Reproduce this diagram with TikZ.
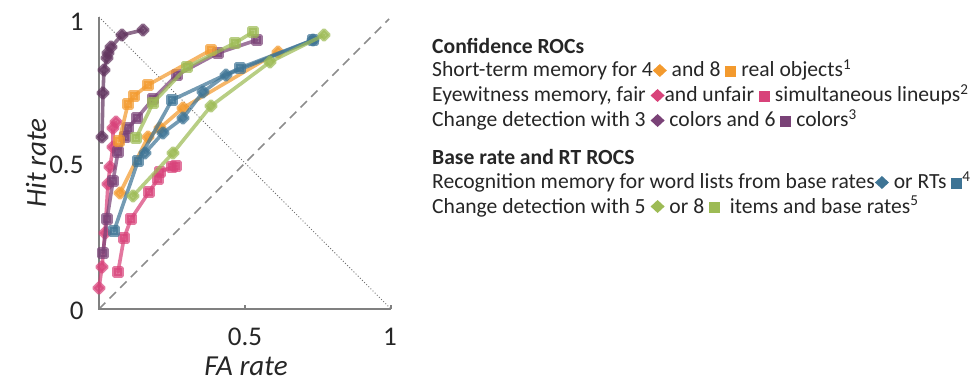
\documentclass[tikz,border=0pt]{standalone}
\usepackage{fontspec}
\setmainfont{Carlito}
\usetikzlibrary{plotmarks}
\definecolor{cOr}{HTML}{F39A2E}
\definecolor{cPk}{HTML}{D8437A}
\definecolor{cPu}{HTML}{7A4277}
\definecolor{cBl}{HTML}{3E7495}
\definecolor{cGr}{HTML}{9DBB55}
\definecolor{axg}{HTML}{808080}
\definecolor{txt}{HTML}{262626}
\newcommand\ldia[1]{\tikz[baseline=0pt]\fill[#1] (0pt,0pt) -- (7pt,6.5pt) -- (0pt,13pt) -- (-7pt,6.5pt) -- cycle;}
\newcommand\lsq[1]{\tikz[baseline=0pt]\fill[#1] (0pt,0pt) rectangle (11pt,11pt);}
\tikzset{
  roc/.style={line width=3.6pt, opacity=0.72, line join=round, line cap=round},
  dmk/.style={mark=square*, mark size=3.6pt, mark options={rotate=45, solid}},
  sqk/.style={mark=square*, mark size=4pt, mark options={solid}},
  ticklab/.style={font=\fontsize{27}{27}\selectfont, text=txt},
  axlab/.style={font=\fontsize{29}{29}\selectfont\itshape, text=txt},
  leg/.style={anchor=base west, font=\fontsize{21.6}{26}\selectfont, inner sep=0pt, text=txt},
  legh/.style={leg, font=\fontsize{21.6}{26}\selectfont\bfseries},
  axisline/.style={draw=axg, line width=1.4pt},
}
\begin{document}
\begin{tikzpicture}[x=1pt,y=-1pt]
\useasboundingbox (0,0) rectangle (979,390);
% reference lines
\draw[black!55, line width=1pt, dotted] (99,17) -- (391,309);
\draw[black!45, line width=1.5pt, dash pattern=on 9pt off 6pt] (99,309) -- (389,19);
% axes
\draw[axisline] (99,17) -- (99,309) -- (391,309);
\draw[axisline] (99,163) -- (103,163);
\draw[axisline] (245,309) -- (245,305);
\draw[axisline] (391,309) -- (391,305);
% curves
\draw[roc,cPk,dmk] plot coordinates {(99,288) (102,267) (105,233) (108,184) (110,167) (113,147) (113,128) (116,122)};
\draw[roc,cPk,sqk] plot coordinates {(118,272) (124,238) (131,219) (149,192) (158,179) (160,172) (172,167) (176,166)};
\draw[roc,cPu,sqk] plot coordinates {(103,253) (107,219) (113,181) (118,152) (125,137) (128,128) (137,118) (153,99) (177,75) (218,53) (257,40)};
\draw[roc,cPu!80!black,dmk] plot coordinates {(102,137) (103,93) (104,70) (107,58) (108,53) (111,47) (122,35) (143,30)};
\draw[roc,cOr,dmk] plot coordinates {(120,193) (148,137) (160,128) (183,108) (278,52)};
\draw[roc,cOr,sqk] plot coordinates {(119,141) (128,104) (134,96) (148,85) (211,50)};
\draw[roc,cBl,sqk] plot coordinates {(114,231) (138,161) (172,100) (240,68) (313,40)};
\draw[roc,cBl,dmk] plot coordinates {(145,153) (163,133) (183,118) (203,92) (226,75) (313,40)};
\draw[roc,cGr,dmk] plot coordinates {(133,196) (173,153) (211,106) (270,62) (324,35)};
\draw[roc,cGr,sqk] plot coordinates {(136,138) (153,103) (187,67) (235,43) (253,32)};
% tick labels
\node[ticklab, anchor=east] (y1) at (87,22) {1};
\node[ticklab, anchor=east] (y05) at (87,165) {0.5};
\node[ticklab, anchor=east] (y0) at (87,311) {0};
\node[ticklab] (x05) at (245,337) {0.5};
\node[ticklab] (x1) at (390,337) {1};
\node[axlab] (xl) at (246,366) {FA rate};
\node[axlab, rotate=90] (yl) at (36,163) {Hit rate};
% legend
\node[legh] (h1) at (432,54) {Confidence ROCs};
\node[leg] (l1) at (432,77) {Short-term memory for 4\ldia{cOr} and 8 \lsq{cOr} real objects\textsuperscript{1}};
\node[leg] (l2) at (432,102) {Eyewitness memory, fair \ldia{cPk}and unfair \lsq{cPk} simultaneous lineups\textsuperscript{2}};
\node[leg] (l3) at (432,127) {Change detection with 3 \ldia{cPu} colors and 6 \lsq{cPu} colors\textsuperscript{3}};
\node[legh] (h2) at (432,165) {Base rate and RT ROCS};
\node[leg] (l4) at (432,189) {Recognition memory for word lists from base rates\ldia{cBl} or RTs \lsq{cBl}\textsuperscript{4}};
\node[leg] (l5) at (432,213) {Change detection with 5 \ldia{cGr} or 8 \lsq{cGr}\ \ items and base rates\textsuperscript{5}};
\end{tikzpicture}
\end{document}
